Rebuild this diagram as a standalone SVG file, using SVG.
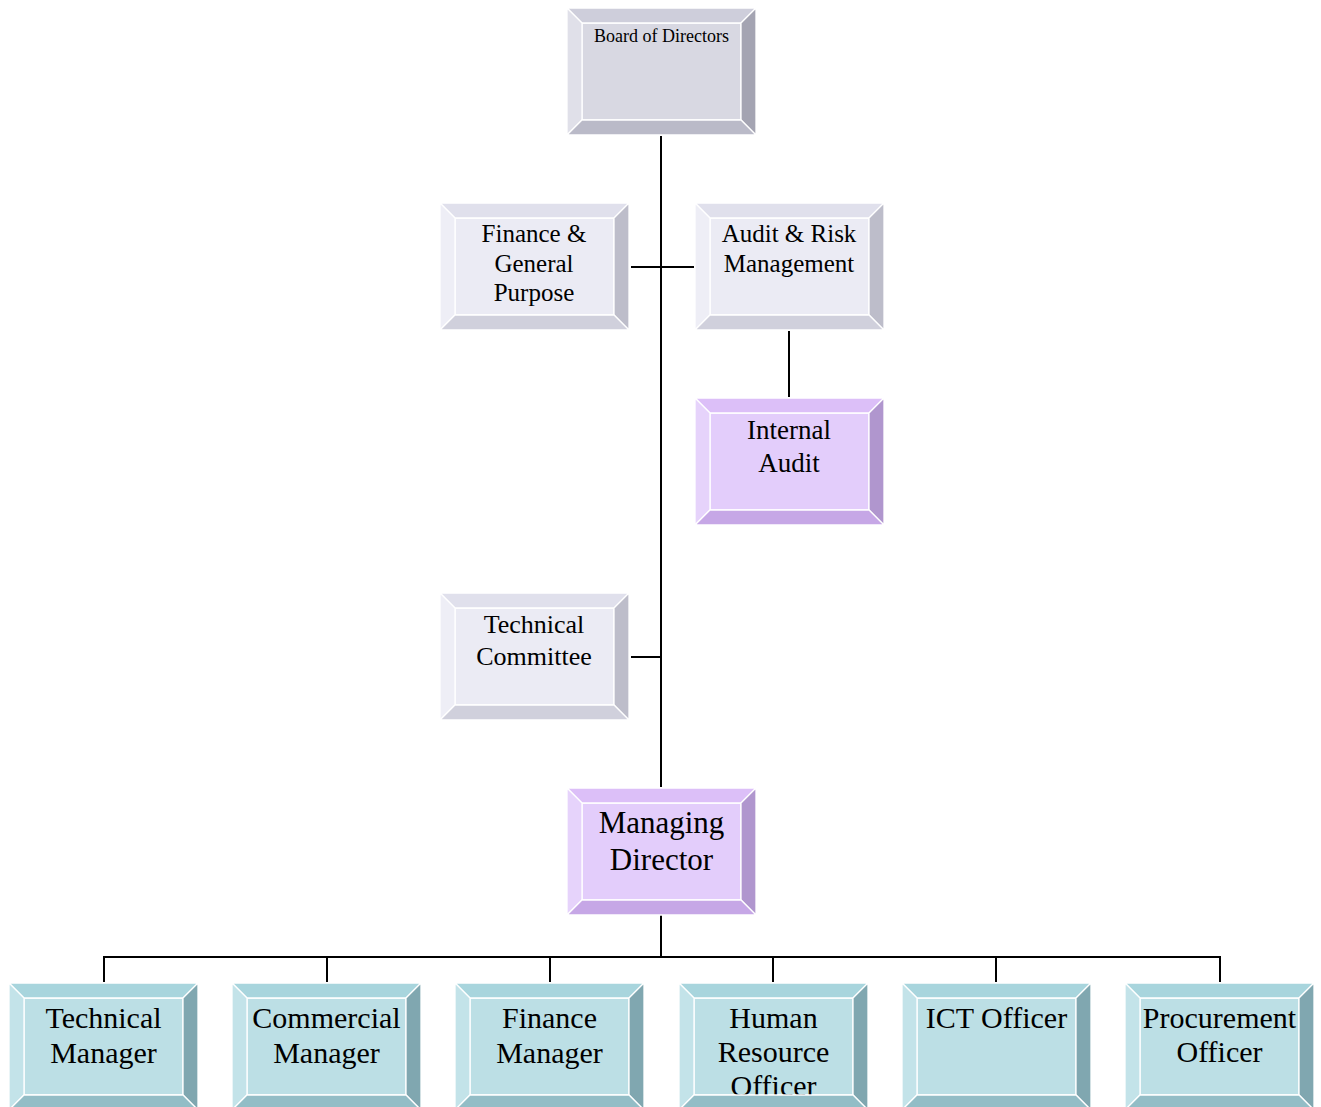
<svg xmlns="http://www.w3.org/2000/svg" width="1321" height="1107" viewBox="0 0 1321 1107">
<style>
text{font-family:"Liberation Serif","Times New Roman",serif;fill:#000;text-anchor:middle}
.bv polygon,.bv rect{stroke:#fff;stroke-width:1.3;stroke-linejoin:miter}
.dk .f{fill:#d8d8e2}.dk .t{fill:#cecedb}.dk .l{fill:#e0e0e9}.dk .r{fill:#a4a4b2}.dk .b{fill:#babac8}
.lt .f{fill:#ebebf4}.lt .t{fill:#e0e0ec}.lt .l{fill:#eeeef6}.lt .r{fill:#bdbdca}.lt .b{fill:#d0d0dc}
.pu .f{fill:#e3cdfb}.pu .t{fill:#dcbff8}.pu .l{fill:#e6d3fb}.pu .r{fill:#b096ce}.pu .b{fill:#c6a7e6}
.te .f{fill:#bcdfe5}.te .t{fill:#a8d5dd}.te .l{fill:#c3e3e9}.te .r{fill:#80a7b0}.te .b{fill:#93bdc6}
.cn line{stroke:#000;stroke-width:2;fill:none}
</style>
<g class="cn" id="connectors">
<line x1="661" y1="136" x2="661" y2="787"/>
<line x1="631" y1="267" x2="694" y2="267"/>
<line x1="789" y1="331" x2="789" y2="397"/>
<line x1="631" y1="657" x2="661" y2="657"/>
<line x1="661" y1="915" x2="661" y2="957"/>
<line x1="103" y1="957" x2="1221" y2="957"/>
<line x1="104" y1="956" x2="104" y2="982"/>
<line x1="327" y1="956" x2="327" y2="982"/>
<line x1="550" y1="956" x2="550" y2="982"/>
<line x1="773" y1="956" x2="773" y2="982"/>
<line x1="996" y1="956" x2="996" y2="982"/>
<line x1="1220" y1="956" x2="1220" y2="982"/>
</g>
<g id="board" class="bv dk" transform="translate(567,8)">
<rect class="f" x="15" y="15" width="159" height="97"/>
<text x="94.5" y="34" font-size="18">Board of Directors</text>
<polygon class="t" points="0,0 189,0 174,15 15,15"/>
<polygon class="l" points="0,0 15,15 15,112 0,127"/>
<polygon class="r" points="189,0 189,127 174,112 174,15"/>
<polygon class="b" points="0,127 15,112 174,112 189,127"/>
</g>
<g id="finance-general" class="bv lt" transform="translate(440,203)">
<rect class="f" x="15" y="15" width="159" height="97"/>
<text font-size="25"><tspan x="94" y="39">Finance &amp;</tspan><tspan x="94" y="68.5">General</tspan><tspan x="94" y="98">Purpose</tspan></text>
<polygon class="t" points="0,0 189,0 174,15 15,15"/>
<polygon class="l" points="0,0 15,15 15,112 0,127"/>
<polygon class="r" points="189,0 189,127 174,112 174,15"/>
<polygon class="b" points="0,127 15,112 174,112 189,127"/>
</g>
<g id="audit-risk" class="bv lt" transform="translate(695,203)">
<rect class="f" x="15" y="15" width="159" height="97"/>
<text font-size="25"><tspan x="94" y="39">Audit &amp; Risk</tspan><tspan x="94" y="69">Management</tspan></text>
<polygon class="t" points="0,0 189,0 174,15 15,15"/>
<polygon class="l" points="0,0 15,15 15,112 0,127"/>
<polygon class="r" points="189,0 189,127 174,112 174,15"/>
<polygon class="b" points="0,127 15,112 174,112 189,127"/>
</g>
<g id="internal-audit" class="bv pu" transform="translate(695,398)">
<rect class="f" x="15" y="15" width="159" height="97"/>
<text font-size="27"><tspan x="94" y="41">Internal</tspan><tspan x="94" y="74">Audit</tspan></text>
<polygon class="t" points="0,0 189,0 174,15 15,15"/>
<polygon class="l" points="0,0 15,15 15,112 0,127"/>
<polygon class="r" points="189,0 189,127 174,112 174,15"/>
<polygon class="b" points="0,127 15,112 174,112 189,127"/>
</g>
<g id="technical-committee" class="bv lt" transform="translate(440,593)">
<rect class="f" x="15" y="15" width="159" height="97"/>
<text font-size="26"><tspan x="94" y="40">Technical</tspan><tspan x="94" y="72">Committee</tspan></text>
<polygon class="t" points="0,0 189,0 174,15 15,15"/>
<polygon class="l" points="0,0 15,15 15,112 0,127"/>
<polygon class="r" points="189,0 189,127 174,112 174,15"/>
<polygon class="b" points="0,127 15,112 174,112 189,127"/>
</g>
<g id="managing-director" class="bv pu" transform="translate(567,788)">
<rect class="f" x="15" y="15" width="159" height="97"/>
<text font-size="31"><tspan x="94.5" y="45">Managing</tspan><tspan x="94.5" y="82">Director</tspan></text>
<polygon class="t" points="0,0 189,0 174,15 15,15"/>
<polygon class="l" points="0,0 15,15 15,112 0,127"/>
<polygon class="r" points="189,0 189,127 174,112 174,15"/>
<polygon class="b" points="0,127 15,112 174,112 189,127"/>
</g>
<g id="technical-manager" class="bv te" transform="translate(9,983)">
<rect class="f" x="15" y="15" width="159" height="97"/>
<text font-size="30"><tspan x="94.5" y="45">Technical</tspan><tspan x="94.5" y="80">Manager</tspan></text>
<polygon class="t" points="0,0 189,0 174,15 15,15"/>
<polygon class="l" points="0,0 15,15 15,112 0,127"/>
<polygon class="r" points="189,0 189,127 174,112 174,15"/>
<polygon class="b" points="0,127 15,112 174,112 189,127"/>
</g>
<g id="commercial-manager" class="bv te" transform="translate(232,983)">
<rect class="f" x="15" y="15" width="159" height="97"/>
<text font-size="30"><tspan x="94.5" y="45">Commercial</tspan><tspan x="94.5" y="80">Manager</tspan></text>
<polygon class="t" points="0,0 189,0 174,15 15,15"/>
<polygon class="l" points="0,0 15,15 15,112 0,127"/>
<polygon class="r" points="189,0 189,127 174,112 174,15"/>
<polygon class="b" points="0,127 15,112 174,112 189,127"/>
</g>
<g id="finance-manager" class="bv te" transform="translate(455,983)">
<rect class="f" x="15" y="15" width="159" height="97"/>
<text font-size="30"><tspan x="94.5" y="45">Finance</tspan><tspan x="94.5" y="80">Manager</tspan></text>
<polygon class="t" points="0,0 189,0 174,15 15,15"/>
<polygon class="l" points="0,0 15,15 15,112 0,127"/>
<polygon class="r" points="189,0 189,127 174,112 174,15"/>
<polygon class="b" points="0,127 15,112 174,112 189,127"/>
</g>
<g id="human-resource-officer" class="bv te" transform="translate(679,983)">
<rect class="f" x="15" y="15" width="159" height="97"/>
<text font-size="30"><tspan x="94.5" y="45">Human</tspan><tspan x="94.5" y="79">Resource</tspan><tspan x="94.5" y="113">Officer</tspan></text>
<polygon class="t" points="0,0 189,0 174,15 15,15"/>
<polygon class="l" points="0,0 15,15 15,112 0,127"/>
<polygon class="r" points="189,0 189,127 174,112 174,15"/>
<polygon class="b" points="0,127 15,112 174,112 189,127"/>
</g>
<g id="ict-officer" class="bv te" transform="translate(902,983)">
<rect class="f" x="15" y="15" width="159" height="97"/>
<text font-size="30"><tspan x="94.5" y="45">ICT Officer</tspan></text>
<polygon class="t" points="0,0 189,0 174,15 15,15"/>
<polygon class="l" points="0,0 15,15 15,112 0,127"/>
<polygon class="r" points="189,0 189,127 174,112 174,15"/>
<polygon class="b" points="0,127 15,112 174,112 189,127"/>
</g>
<g id="procurement-officer" class="bv te" transform="translate(1125,983)">
<rect class="f" x="15" y="15" width="159" height="97"/>
<text font-size="30"><tspan x="94.5" y="45">Procurement</tspan><tspan x="94.5" y="79">Officer</tspan></text>
<polygon class="t" points="0,0 189,0 174,15 15,15"/>
<polygon class="l" points="0,0 15,15 15,112 0,127"/>
<polygon class="r" points="189,0 189,127 174,112 174,15"/>
<polygon class="b" points="0,127 15,112 174,112 189,127"/>
</g>
</svg>
